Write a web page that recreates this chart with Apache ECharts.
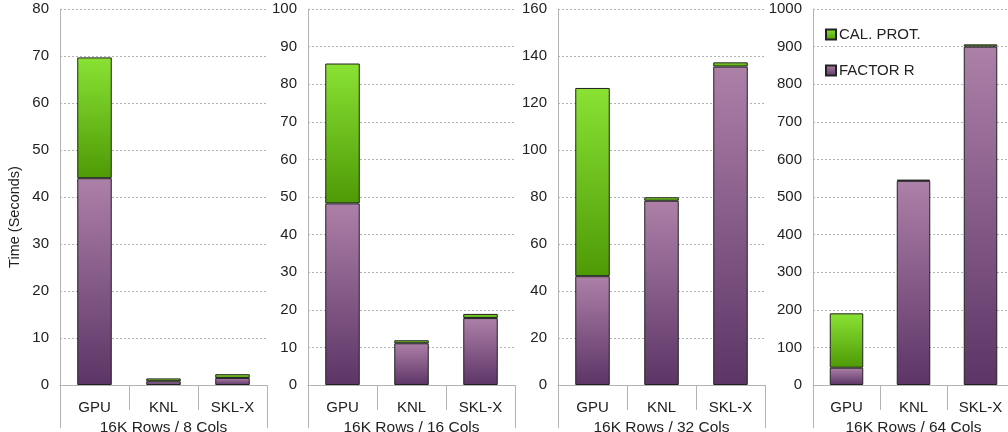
<!DOCTYPE html>
<html>
<head>
<meta charset="utf-8">
<script src="https://cdn.jsdelivr.net/npm/echarts@6/dist/echarts.min.js"></script>
<style>html,body{margin:0;padding:0;background:#fff;}#c{width:1008px;height:432px;}</style>
</head>
<body>
<div id="c"></div>
<script>
const categories = ['GPU', 'KNL', 'SKL-X'];
const panelTitles = ['16K Rows / 8 Cols', '16K Rows / 16 Cols', '16K Rows / 32 Cols', '16K Rows / 64 Cols'];
const yMax = [80, 100, 160, 1000];
const yInterval = [10, 10, 20, 100];
const factorR = [[44.0, 0.8, 1.5], [48.3, 11.1, 17.8], [46.3, 78.4, 135.5], [46, 543, 900]];
const calProt = [[25.7, 0.6, 0.8], [37.2, 0.8, 1.1], [80.1, 1.5, 1.8], [144.6, 3, 6]];

const gridLeft = [60, 308, 558, 813];
const gridWidth = [207, 207, 207, 201];

const font = 'Liberation Sans, Arial, sans-serif';
const purple = new echarts.graphic.LinearGradient(0, 0, 0, 1, [{offset: 0, color: '#ad80a8'}, {offset: 1, color: '#5c3566'}]);
const green = new echarts.graphic.LinearGradient(0, 0, 0, 1, [{offset: 0, color: '#8ae234'}, {offset: 1, color: '#4e9a06'}]);

const grids = [], xAxes = [], yAxes = [], series = [];
for (let i = 0; i < 4; i++) {
  grids.push({left: gridLeft[i], width: gridWidth[i], top: 9, height: 376, containLabel: false, outerBoundsMode: 'none'});
  xAxes.push({
    type: 'category', gridIndex: i, data: categories,
    name: panelTitles[i], nameLocation: 'middle', nameGap: 31,
    nameTextStyle: {fontFamily: font, fontSize: 15.5, color: '#222'},
    axisLine: {show: true, lineStyle: {color: '#b3b3b3'}},
    axisTick: {show: true, length: 25, lineStyle: {color: '#b3b3b3'}},
    axisLabel: {fontFamily: font, fontSize: 15, color: '#222', margin: 15},
    splitLine: {show: false}
  });
  yAxes.push({
    type: 'value', gridIndex: i, min: 0, max: yMax[i], interval: yInterval[i],
    name: i === 0 ? 'Time (Seconds)' : '', nameLocation: 'middle', nameGap: 38,
    nameTextStyle: {fontFamily: font, fontSize: 14.5, color: '#222', padding: [0, 40, 0, 0]},
    axisLine: {show: true, lineStyle: {color: '#b3b3b3'}},
    axisTick: {show: false},
    axisLabel: {fontFamily: font, fontSize: 15, color: '#222', margin: 11, formatter: v => String(v)},
    splitLine: {show: true, lineStyle: {color: '#b3b3b3', type: [2, 2]}}
  });
  series.push({
    name: 'FACTOR R', type: 'bar', stack: 's' + i, xAxisIndex: i, yAxisIndex: i,
    data: factorR[i], barWidth: '50%',
    itemStyle: {color: purple, borderColor: '#222', borderWidth: 1}
  });
  series.push({
    name: 'CAL. PROT.', type: 'bar', stack: 's' + i, xAxisIndex: i, yAxisIndex: i,
    data: calProt[i], barWidth: '50%',
    itemStyle: {color: green, borderColor: '#222', borderWidth: 1}
  });
}
// edge extension lines below each panel
for (let i = 0; i < 4; i++) {
  grids.push({left: gridLeft[i], width: gridWidth[i], top: 9, height: 376, containLabel: false, outerBoundsMode: 'none'});
  xAxes.push({
    type: 'category', gridIndex: 4 + i, data: [''],
    axisLine: {show: false},
    axisTick: {show: true, length: 43, lineStyle: {color: '#b3b3b3'}},
    axisLabel: {show: false}
  });
  yAxes.push({type: 'value', gridIndex: 4 + i, show: false, min: 0, max: 1});
}

const chart = echarts.init(document.getElementById('c'));
chart.setOption({
  animation: false,
  grid: grids, xAxis: xAxes, yAxis: yAxes, series: series,
  legend: {
    data: ['CAL. PROT.', 'FACTOR R'],
    orient: 'vertical', left: 825, top: 27, padding: 0,
    itemWidth: 10, itemHeight: 10, itemGap: 21,
    icon: 'rect',
    textStyle: {fontFamily: font, fontSize: 15, color: '#222', padding: [0, 0, 0, -2]}
  }
});
</script>
</body>
</html>
